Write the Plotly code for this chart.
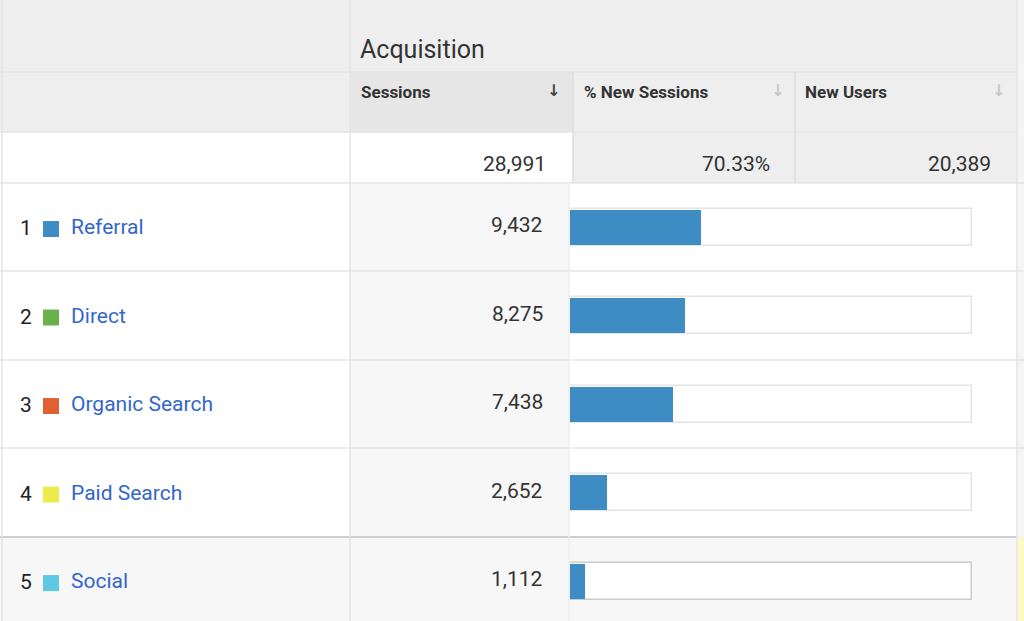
import plotly.graph_objects as go

# Channel data
channels = ['Referral', 'Direct', 'Organic Search', 'Paid Search', 'Social']
sessions = [9432, 8275, 7438, 2652, 1112]
channel_colors = ['#3d8cc6', '#6ab04b', '#e06032', '#eeec4c', '#5ec9e2']

total_sessions = 28991
total_new_sessions_pct = '70.33%'
total_new_users = 20389

group_title = 'Acquisition'
column_titles = ['Sessions', '% New Sessions', 'New Users']

W, H = 1024, 621
ROW_H = 88.5  # pixel height of a data row
TOP = 183     # pixel top of first data row


def X(p):
    return p / W


def Y(p):
    return 1 - p / H


fig = go.Figure()

# grey track = the total, blue fill = channel sessions
track_edges = ['#e4e4e4'] * (len(channels) - 1) + ['#cccccc']
fig.add_trace(go.Bar(
    y=channels, x=[total_sessions] * len(channels), orientation='h',
    marker=dict(color='white', line=dict(color=track_edges, width=1.5)),
    width=0.42, hoverinfo='skip', showlegend=False
))
fig.add_trace(go.Bar(
    y=channels, x=sessions, orientation='h',
    marker=dict(color='#3d8cc4', line=dict(width=0)),
    width=0.40, showlegend=False
))

shapes = []


def rect(x0, y0, x1, y1, color):
    shapes.append(dict(type='rect', xref='paper', yref='paper',
                       x0=X(x0), x1=X(x1), y0=Y(y0), y1=Y(y1),
                       fillcolor=color, line=dict(width=0), layer='below'))


def hline(x0, x1, y, color='#e4e4e4', w=1.5):
    shapes.append(dict(type='line', xref='paper', yref='paper',
                       x0=X(x0), x1=X(x1), y0=Y(y), y1=Y(y),
                       line=dict(color=color, width=w), layer='below'))


def vline(x, y0, y1, color='#e4e4e4', w=1.5):
    shapes.append(dict(type='line', xref='paper', yref='paper',
                       x0=X(x), x1=X(x), y0=Y(y0), y1=Y(y1),
                       line=dict(color=color, width=w), layer='below'))


# header backgrounds
rect(0, 0, 1017, 132, '#eeeeee')
rect(350, 72, 573, 132, '#e6e6e6')
rect(573, 132, 1017, 183, '#eeeeee')
rect(1017, 0, 1024, 183, '#f4f4f4')
# data rows
rect(350, 183, 569, 621, '#f7f7f7')
rect(1017, 183, 1024, 537, '#f5f5f5')
rect(0, 537, 1017, 621, '#f7f7f7')
rect(1018, 537, 1024, 621, '#fff9c8')

# grid lines
hline(0, 1017, 72)
hline(0, 1017, 132)
hline(0, 1024, 183)
for yy in [271, 360, 448]:
    hline(0, 1024, yy)
hline(0, 1017, 537, color='#cfcfcf', w=2)
vline(2, 0, 621)
vline(350, 0, 621)
vline(573, 72, 183, color='#dcdcdc')
vline(795, 72, 183, color='#dcdcdc')
vline(569, 183, 621, color='#eeeeee')
vline(1017, 0, 621)

# channel colour squares
for i, c in enumerate(channel_colors):
    shapes.append(dict(type='rect', xref='paper', yref='y',
                       x0=X(43), x1=X(59), y0=i - 0.07, y1=i + 0.11,
                       fillcolor=c, line=dict(width=0)))

ann = []
font = 'Roboto, Arial, sans-serif'
ann.append(dict(text=group_title, x=X(358), y=Y(49), xanchor='left', yanchor='middle',
                font=dict(family=font, size=25, color='#333333')))
for name, x0, arrow_x, arrow_col in zip(column_titles, [359, 582, 803],
                                         [553, 777, 998],
                                         ['#444444', '#c8c8c8', '#c8c8c8']):
    ann.append(dict(text='<b>%s</b>' % name, x=X(x0), y=Y(92), xanchor='left', yanchor='middle',
                    font=dict(family=font, size=17, color='#333333')))
    ann.append(dict(text='<b>↓</b>', x=X(arrow_x), y=Y(91), xanchor='center', yanchor='middle',
                    font=dict(family='DejaVu Sans', size=16, color=arrow_col)))
totals = [f'{total_sessions:,}', total_new_sessions_pct, f'{total_new_users:,}']
for t, xr in zip(totals, [548, 772, 993]):
    ann.append(dict(text=t, x=X(xr), y=Y(164), xanchor='right', yanchor='middle',
                    font=dict(family=font, size=21, color='#333333')))

for i, (name, s) in enumerate(zip(channels, sessions)):
    ann.append(dict(text=str(i + 1), x=X(18), y=name, yref='y', xanchor='left', yanchor='middle',
                    yshift=-1, font=dict(family=font, size=21, color='#222222')))
    ann.append(dict(text=name, x=X(69), y=name, yref='y', xanchor='left', yanchor='middle',
                    yshift=0, font=dict(family=font, size=21, color='#3366cc')))
    ann.append(dict(text=f'{s:,}', x=X(545), y=name, yref='y', xanchor='right', yanchor='middle',
                    yshift=2, font=dict(family=font, size=21, color='#333333')))

for a in ann:
    a.setdefault('xref', 'paper')
    a.setdefault('yref', 'paper')
    a['showarrow'] = False

fig.update_layout(
    width=W, height=H,
    margin=dict(l=0, r=0, t=0, b=0),
    paper_bgcolor='white', plot_bgcolor='rgba(0,0,0,0)',
    barmode='overlay', bargap=0,
    shapes=shapes, annotations=ann,
    xaxis=dict(domain=[X(570), X(972)], range=[0, total_sessions], visible=False, fixedrange=True),
    yaxis=dict(domain=[0, Y(TOP)], range=[-0.5 + (H - TOP) / ROW_H, -0.5],
               visible=False, fixedrange=True),
)

# drop the browser's default body margin so the table sits at the window corner
fig.write_html('out.html', config={'displayModeBar': False},
               post_script="document.body.style.margin='0';document.body.style.overflow='hidden';")
